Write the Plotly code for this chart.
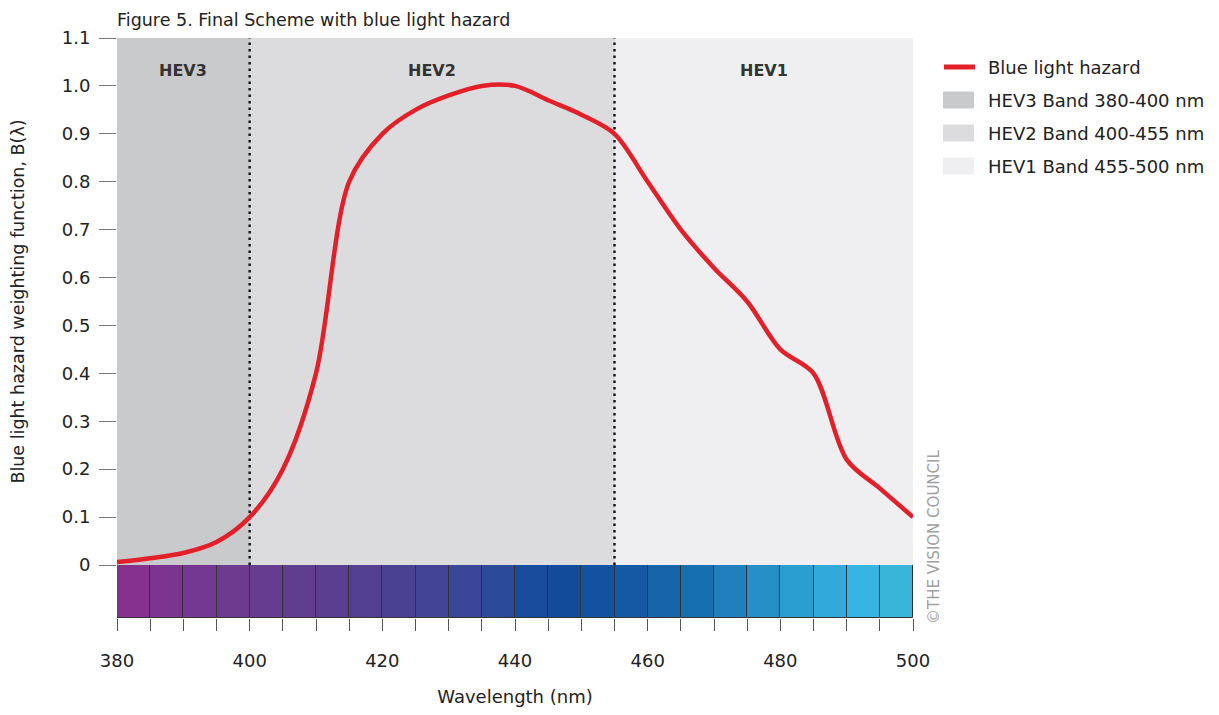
import plotly.graph_objects as go

# ---------------- data ----------------
wavelength = [380, 385, 390, 395, 400, 405, 410, 415, 420, 425, 430, 435, 440,
              445, 450, 455, 460, 465, 470, 475, 480, 485, 490, 495, 500]
hazard = [0.006, 0.014, 0.025, 0.048, 0.10, 0.20, 0.40, 0.80, 0.90, 0.95, 0.98, 1.00, 1.00,
          0.97, 0.94, 0.90, 0.80, 0.70, 0.62, 0.55, 0.45, 0.40, 0.22, 0.16, 0.10]

band_names = ["HEV3", "HEV2", "HEV1"]
band_legend = ["HEV3 Band 380-400 nm", "HEV2 Band 400-455 nm", "HEV1 Band 455-500 nm"]
band_start = [380, 400, 455]
band_end = [400, 455, 500]
band_colors = ["#c9cacc", "#dcdcde", "#efeff1"]
divider_x = [400, 455]

strip_start = list(range(380, 500, 5))
strip_colors = ["#86318e", "#7b3490", "#753892", "#6e3a90", "#653c8f", "#5f3d8f",
                "#5a3e8f", "#523f90", "#4b4193", "#424496", "#3a4798", "#2c4a9a",
                "#164c9b", "#114b9a", "#13529f", "#1559a4", "#1764a9", "#1670b0",
                "#2080bd", "#2590c7", "#2a9dd1", "#31a9da", "#36b4e3", "#38b5d8"]

y_ticks = [0, 0.1, 0.2, 0.3, 0.4, 0.5, 0.6, 0.7, 0.8, 0.9, 1.0, 1.1]
y_ticktext = ["0", "0.1", "0.2", "0.3", "0.4", "0.5", "0.6", "0.7", "0.8", "0.9", "1.0", "1.1"]
x_ticks = list(range(380, 505, 5))
x_ticktext = [str(v) if v % 20 == 0 else "" for v in x_ticks]

line_name = "Blue light hazard"
line_color = "#e3202a"
Y_MAX = 1.1

FONT = "DejaVu Sans"
TXT = "#222222"

# page offset (default body margin) and figure size
OFF = 8
FIG_W, FIG_H = 1203, 699

# ---------------- figure ----------------
fig = go.Figure()

# bands
for name, s, e, c in zip(band_legend, band_start, band_end, band_colors):
    fig.add_trace(go.Bar(x=[(s + e) / 2], y=[Y_MAX], width=[e - s], marker=dict(color=c, line=dict(width=0)),
                         name=name, showlegend=False, xaxis="x", yaxis="y", hoverinfo="skip"))

# dotted dividers
for d in divider_x:
    fig.add_trace(go.Scatter(x=[d, d], y=[0, Y_MAX], mode="lines",
                             line=dict(color="#1a1a1a", width=2.5, dash="2.5px,4px"),
                             showlegend=False, hoverinfo="skip", xaxis="x", yaxis="y"))

# curve
fig.add_trace(go.Scatter(x=wavelength, y=hazard, mode="lines", name=line_name,
                         line=dict(color=line_color, width=4.5, shape="spline", smoothing=0.9),
                         showlegend=False, xaxis="x", yaxis="y"))

# color strip
fig.add_trace(go.Bar(x=[s + 2.5 for s in strip_start], y=[1] * len(strip_start), width=[5] * len(strip_start),
                     marker=dict(color=strip_colors, line=dict(color="#333333", width=1)),
                     showlegend=False, hoverinfo="skip", xaxis="x", yaxis="y2"))

# band labels
for name, s, e in zip(band_names, band_start, band_end):
    fig.add_annotation(x=(s + e) / 2, y=1.033, xref="x", yref="y", text="<b>%s</b>" % name,
                       showarrow=False, font=dict(family=FONT, size=16, color="#333333"))

# custom legend (screen pixel positions -> paper coords)
L, R, T, B = 117, 913, 38, 618
W, H = R - L, B - T
def px(xp):
    return (xp - L) / W
def py(yp):
    return (B - yp) / H

legend_labels = [line_name] + band_legend
for i, lab in enumerate(legend_labels):
    yc = 67 + 33 * i
    if i == 0:
        fig.add_shape(type="line", xref="paper", yref="paper", x0=px(944), x1=px(975), y0=py(yc), y1=py(yc),
                      line=dict(color=line_color, width=5))
    else:
        fig.add_shape(type="rect", xref="paper", yref="paper", x0=px(943), x1=px(974), y0=py(yc - 8.5), y1=py(yc + 8.5),
                      fillcolor=band_colors[i - 1], line=dict(width=0))
    fig.add_annotation(x=px(986), y=py(yc), xref="paper", yref="paper", text=lab, showarrow=False,
                       xanchor="left", yanchor="middle", font=dict(family=FONT, size=18, color=TXT))

# copyright
fig.add_annotation(x=px(934), y=py(537), xref="paper", yref="paper", text="©THE VISION COUNCIL",
                   textangle=-90, showarrow=False, xanchor="center", yanchor="middle",
                   font=dict(family=FONT, size=15, color="#a0a0a0"))

strip_frac = 53 / H
fig.update_layout(
    width=FIG_W, height=FIG_H,
    margin=dict(l=L - OFF, r=FIG_W - (R - OFF), t=T - OFF, b=FIG_H - (B - OFF), pad=0),
    paper_bgcolor="white", plot_bgcolor="white",
    barmode="overlay", bargap=0,
    showlegend=False,
    font=dict(family=FONT, size=17, color=TXT),
    title=dict(text="Figure 5. Final Scheme with blue light hazard", x=(L - OFF) / FIG_W, xanchor="left",
               y=1 - (20 - OFF) / FIG_H, yanchor="middle",
               font=dict(family=FONT, size=17.5, color=TXT)),
    xaxis=dict(range=[380, 500], anchor="y2", tickmode="array", tickvals=x_ticks, ticktext=x_ticktext,
               ticks="outside", ticklen=12, tickwidth=1, tickcolor="#555555", showgrid=False, zeroline=False,
               showline=False, tickfont=dict(family=FONT, size=18, color=TXT), ticklabelstandoff=14,
               automargin=False,
               title=dict(text="Wavelength (nm)", font=dict(family=FONT, size=18, color=TXT), standoff=22)),
    yaxis=dict(domain=[strip_frac, 1], range=[0, Y_MAX], tickmode="array", tickvals=y_ticks, ticktext=y_ticktext,
               ticks="outside", ticklen=17, tickwidth=1, tickcolor="#777777", showgrid=False, zeroline=False,
               showline=False, tickfont=dict(family=FONT, size=18, color=TXT), ticklabelstandoff=5,
               automargin=False,
               title=dict(text="Blue light hazard weighting function, B(λ)", font=dict(family=FONT, size=17.5, color=TXT),
                          standoff=32)),
    yaxis2=dict(domain=[0, strip_frac], range=[0, 1], showticklabels=False, ticks="", showgrid=False,
                zeroline=False, showline=False, anchor="x", automargin=False),
)

fig.write_html("out.html")
